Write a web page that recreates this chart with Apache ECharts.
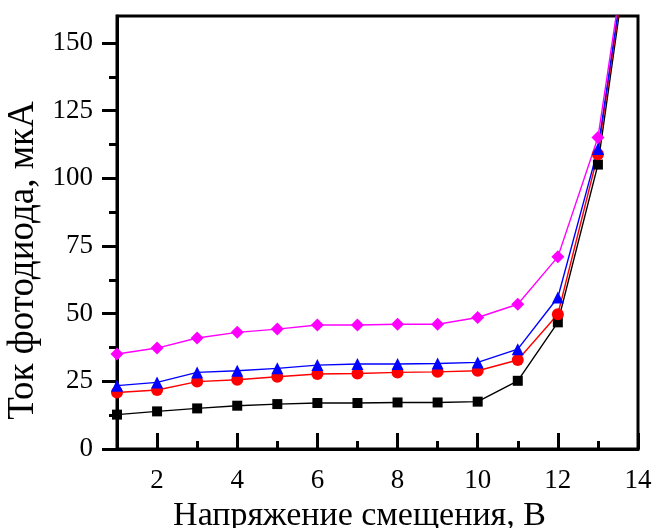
<!DOCTYPE html>
<html>
<head>
<meta charset="utf-8">
<script src="https://cdn.jsdelivr.net/npm/echarts@6/dist/echarts.min.js"></script>
<style>html,body{margin:0;padding:0;background:#fff;}#c{width:656px;height:528px;}</style>
</head>
<body>
<div id="c"></div>
<script>
const voltage = [1, 2, 3, 4, 5, 6, 7, 8, 9, 10, 11, 12, 13, 14];
const seriesBlack   = [12.7, 13.9, 15.0, 16.0, 16.6, 17.0, 17.0, 17.2, 17.2, 17.5, 25.2, 46.8, 105.1, 210];
const seriesRed     = [20.9, 21.8, 24.9, 25.6, 26.7, 27.7, 27.9, 28.3, 28.5, 28.9, 32.9, 49.8, 108.9, 211];
const seriesBlue    = [23.4, 24.6, 28.3, 28.9, 29.8, 31.0, 31.4, 31.4, 31.6, 32.0, 36.9, 56.0, 110.9, 212];
const seriesMagenta = [35.1, 37.3, 41.0, 43.1, 44.3, 45.8, 45.8, 46.1, 46.1, 48.6, 53.5, 71.0, 115.1, 214];
const xMajorTicks = [2, 4, 6, 8, 10, 12, 14];
const xMinorTicks = [3, 5, 7, 9, 11, 13];
const yMajorTicks = [0, 25, 50, 75, 100, 125, 150];
const yMinorTicks = [12.5, 37.5, 62.5, 87.5, 112.5, 137.5];
const xTitle = 'Напряжение смещения, В';
const yTitle = 'Ток фотодиода, мкА';

const font = 'Liberation Serif';
const chart = echarts.init(document.getElementById('c'), null, {renderer: 'canvas'});
function mk(name, data, color, symbol, size) {
  return {
    name, type: 'line', xAxisIndex: 0, yAxisIndex: 0,
    data: voltage.map((v, i) => [v, data[i]]),
    symbol, symbolSize: size, clip: true,
    lineStyle: {color, width: 1.4},
    itemStyle: {color},
    z: 3
  };
}
chart.setOption({
  animation: false,
  backgroundColor: '#fff',
  grid: {left: 117, right: 18, top: 16, bottom: 79, show: true, borderColor: '#000', borderWidth: 3, backgroundColor: 'transparent', containLabel: false, outerBoundsMode: 'none'},
  xAxis: [
    {type: 'value', min: 1, max: 14, position: 'bottom',
     axisLine: {show: true, onZero: false, lineStyle: {color: '#000', width: 3}},
     axisTick: {show: true, inside: true, length: 16, customValues: xMajorTicks, lineStyle: {color: '#000', width: 3}},
     axisLabel: {customValues: xMajorTicks, color: '#000', fontFamily: font, fontSize: 27, margin: 18},
     splitLine: {show: false},
     name: xTitle, nameLocation: 'middle', nameGap: 40,
     nameTextStyle: {color: '#000', fontFamily: font, fontSize: 34, padding: [0, 36, 0, 0]}},
    {type: 'value', min: 1, max: 14, position: 'bottom',
     axisLine: {show: false, onZero: false},
     axisTick: {show: true, inside: true, length: 8, customValues: xMinorTicks, lineStyle: {color: '#000', width: 3}},
     axisLabel: {show: false}, splitLine: {show: false}}
  ],
  yAxis: [
    {type: 'value', min: 0, max: 160, position: 'left',
     axisLine: {show: true, onZero: false, lineStyle: {color: '#000', width: 3}},
     axisTick: {show: true, inside: false, length: 15, customValues: yMajorTicks, lineStyle: {color: '#000', width: 3}},
     axisLabel: {customValues: yMajorTicks, color: '#000', fontFamily: font, fontSize: 27, margin: 24},
     splitLine: {show: false},
     name: yTitle, nameLocation: 'middle', nameGap: 73, nameRotate: 90,
     nameTextStyle: {color: '#000', fontFamily: font, fontSize: 37, padding: [0, 56, 0, 0]}},
    {type: 'value', min: 0, max: 160, position: 'left',
     axisLine: {show: false, onZero: false},
     axisTick: {show: true, inside: false, length: 8, customValues: yMinorTicks, lineStyle: {color: '#000', width: 3}},
     axisLabel: {show: false}, splitLine: {show: false}}
  ],
  series: [
    mk('black', seriesBlack, '#000000', 'rect', 10),
    mk('red', seriesRed, '#ff0000', 'circle', 12),
    mk('blue', seriesBlue, '#0000ff', 'triangle', 12),
    mk('magenta', seriesMagenta, '#ff00ff', 'diamond', 13)
  ]
});
</script>
</body>
</html>
